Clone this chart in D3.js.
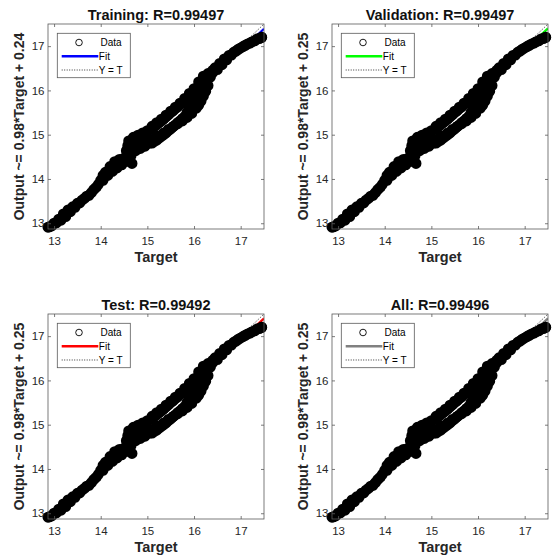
<!DOCTYPE html>
<html>
<head>
<meta charset="utf-8">
<script src="https://cdn.jsdelivr.net/npm/d3@7"></script>
<style>
  html, body { margin: 0; padding: 0; background: #fff; }
  svg { display: block; font-family: "Liberation Sans", Arial, Helvetica, sans-serif; }
</style>
</head>
<body>
<svg id="chart" width="557" height="558"></svg>
<script>
// Regression panels: titles, fit coefficients, fit colours
const panelTitles = ["Training: R=0.99497", "Validation: R=0.99497", "Test: R=0.99492", "All: R=0.99496"];
const fitSlopes = [0.98, 0.98, 0.98, 0.98];
const fitIntercepts = [0.24, 0.25, 0.25, 0.25];
const fitColors = ["#0000ff", "#00ff00", "#ff0000", "#808080"];
const axisLimits = [12.87, 17.5];
const tickValues = [13, 14, 15, 16, 17];
const legendLabels = ["Data", "Fit", "Y = T"];
const xLabel = "Target";

// Target / output samples (upper side of the point cloud)
const targetsUpper = [12.87, 12.9, 13.0, 13.1, 13.2, 13.3, 13.4, 13.5, 13.6, 13.7, 13.8, 13.9, 14.0, 14.05, 14.1, 14.2, 14.3, 14.4, 14.5, 14.55, 14.58, 14.6, 14.7, 14.8, 14.9, 15.0, 15.1, 15.2, 15.3, 15.4, 15.5, 15.6, 15.7, 15.8, 15.9, 16.0, 16.1, 16.2, 16.3, 16.4, 16.5, 16.6, 16.7, 16.8, 16.9, 17.0, 17.1, 17.2, 17.3, 17.4, 17.45];
const outputsUpper = [12.91, 12.92, 13.00, 13.09, 13.21, 13.30, 13.37, 13.45, 13.52, 13.61, 13.69, 13.81, 13.97, 14.08, 14.15, 14.28, 14.39, 14.44, 14.47, 14.64, 14.75, 14.86, 14.94, 14.99, 15.04, 15.09, 15.19, 15.27, 15.35, 15.44, 15.53, 15.62, 15.71, 15.82, 15.93, 16.04, 16.19, 16.32, 16.38, 16.40, 16.47, 16.58, 16.69, 16.80, 16.89, 16.96, 17.02, 17.07, 17.12, 17.17, 17.20];

// Lower side of the point cloud
const targetsLower = [12.95, 13.05, 13.15, 13.25, 13.35, 13.45, 13.55, 13.65, 13.75, 13.85, 13.95, 14.05, 14.15, 14.25, 14.35, 14.45, 14.55, 14.65, 14.67, 14.75, 14.85, 14.95, 15.05, 15.15, 15.25, 15.35, 15.45, 15.55, 15.65, 15.75, 15.85, 15.95, 16.05, 16.1, 16.15, 16.2, 16.25, 16.3, 16.35, 16.4, 16.45, 16.55, 16.65, 16.75, 16.85, 16.95, 17.05, 17.15, 17.25, 17.35, 17.45];
const outputsLower = [12.94, 13.01, 13.07, 13.15, 13.26, 13.36, 13.46, 13.56, 13.63, 13.76, 13.88, 13.97, 14.08, 14.17, 14.25, 14.32, 14.40, 14.53, 14.35, 14.64, 14.69, 14.74, 14.81, 14.90, 14.97, 15.04, 15.12, 15.18, 15.25, 15.31, 15.39, 15.48, 15.60, 15.67, 15.76, 15.87, 15.98, 16.11, 16.30, 16.45, 16.51, 16.61, 16.71, 16.79, 16.86, 16.93, 16.99, 17.05, 17.10, 17.16, 17.20];

// Inner samples of the wide middle section: the loop above the thin gap ...
const targetsInnerA = [14.6, 14.7, 14.8, 14.9, 15.0, 15.1, 15.15, 15.2, 15.25, 15.3, 15.35, 15.4, 15.45, 15.5, 15.55, 15.6, 15.65, 15.7, 15.75, 15.8, 15.85, 15.9, 15.95, 16.0, 16.05, 16.1, 16.15, 16.2, 16.25, 16.3];
const outputsInnerA = [14.67, 14.76, 14.83, 14.88, 14.93, 15.12, 15.18, 15.23, 15.27, 15.31, 15.35, 15.40, 15.45, 15.50, 15.54, 15.59, 15.63, 15.68, 15.72, 15.77, 15.78, 15.78, 15.83, 15.88, 15.95, 16.02, 16.10, 16.17, 16.22, 16.26];
// ... and the loop below it
const targetsInnerB = [15.1, 15.15, 15.2, 15.25, 15.3, 15.35, 15.4, 15.45, 15.5, 15.55, 15.6, 15.65, 15.7, 15.75, 15.8, 15.85, 15.9, 15.95, 16.0, 16.05, 16.1, 16.15, 16.2];
const outputsInnerB = [14.81, 14.85, 14.88, 14.92, 14.96, 15.00, 15.04, 15.09, 15.13, 15.18, 15.22, 15.27, 15.31, 15.36, 15.41, 15.50, 15.60, 15.65, 15.70, 15.78, 15.85, 15.94, 16.02];

const samples = [
  [targetsUpper, outputsUpper],
  [targetsLower, outputsLower],
  [targetsInnerA, outputsInnerA],
  [targetsInnerB, outputsInnerB]
].flatMap(([ts, os]) => ts.map((t, k) => ({ t, o: os[k] })));

const svg = d3.select("#chart");
const FONT = '"Liberation Sans", Arial, Helvetica, sans-serif';
const axW = 216, axH = 205;
const panelOrigins = [[48, 24], [332, 24], [48, 314], [332, 314]];
const boxColor = "#5a5a5a";

panelOrigins.forEach(([left, top], i) => {
  const x = d3.scaleLinear().domain(axisLimits).range([left, left + axW]);
  const y = d3.scaleLinear().domain(axisLimits).range([top + axH, top]);
  const g = svg.append("g");

  const clipId = "clip" + i;
  svg.append("clipPath").attr("id", clipId)
    .append("rect").attr("x", left).attr("y", top).attr("width", axW).attr("height", axH);

  // Y = T reference line
  g.append("line")
    .attr("clip-path", `url(#${clipId})`)
    .attr("x1", x(axisLimits[0])).attr("y1", y(axisLimits[0]))
    .attr("x2", x(axisLimits[1])).attr("y2", y(axisLimits[1]))
    .attr("stroke", "#000").attr("stroke-width", 0.8).attr("stroke-dasharray", "1,1.5");

  // Linear fit
  const fit = t => fitSlopes[i] * t + fitIntercepts[i];
  g.append("line")
    .attr("clip-path", `url(#${clipId})`)
    .attr("x1", x(axisLimits[0])).attr("y1", y(fit(axisLimits[0])))
    .attr("x2", x(axisLimits[1])).attr("y2", y(fit(axisLimits[1])))
    .attr("stroke", fitColors[i]).attr("stroke-width", 2.2);

  // Data markers
  g.append("g").selectAll("circle").data(samples).join("circle")
    .attr("cx", d => x(d.t)).attr("cy", d => y(d.o))
    .attr("r", 2.75)
    .attr("fill", "none").attr("stroke", "#000").attr("stroke-width", 5.5);

  // Axes with inward ticks on all four sides
  const styleAxis = sel => {
    sel.attr("font-family", FONT).attr("font-size", 11.5);
    sel.select(".domain").remove();
    sel.selectAll(".tick line").attr("stroke", boxColor).attr("stroke-width", 0.8);
    sel.selectAll(".tick text").attr("fill", "#262626");
  };
  g.append("g").attr("transform", `translate(0,${top + axH})`)
    .call(d3.axisBottom(x).tickValues(tickValues).tickSize(-3).tickPadding(7.5).tickFormat(d3.format("d")))
    .call(styleAxis);
  g.append("g").attr("transform", `translate(0,${top})`)
    .call(d3.axisTop(x).tickValues(tickValues).tickSize(-3).tickFormat(""))
    .call(styleAxis);
  g.append("g").attr("transform", `translate(${left},0)`)
    .call(d3.axisLeft(y).tickValues(tickValues).tickSize(-3).tickPadding(3.5).tickFormat(d3.format("d")))
    .call(styleAxis);
  g.append("g").attr("transform", `translate(${left + axW},0)`)
    .call(d3.axisRight(y).tickValues(tickValues).tickSize(-3).tickFormat(""))
    .call(styleAxis);

  g.append("rect")
    .attr("x", left).attr("y", top).attr("width", axW).attr("height", axH)
    .attr("fill", "none").attr("stroke", boxColor).attr("stroke-width", 0.8);

  // Legend
  const lg = g.append("g").attr("transform", `translate(${left + 9.3},${top + 9.3})`);
  lg.append("rect").attr("width", 73).attr("height", 44.4)
    .attr("fill", "#fff").attr("stroke", boxColor).attr("stroke-width", 0.8);
  const rows = [9.2, 23, 36.7];
  lg.append("circle").attr("cx", 21.7).attr("cy", rows[0]).attr("r", 3.3)
    .attr("fill", "none").attr("stroke", "#000").attr("stroke-width", 0.9);
  lg.append("line").attr("x1", 4.4).attr("x2", 41).attr("y1", rows[1]).attr("y2", rows[1])
    .attr("stroke", fitColors[i]).attr("stroke-width", 2.4);
  lg.append("line").attr("x1", 4.4).attr("x2", 41).attr("y1", rows[2]).attr("y2", rows[2])
    .attr("stroke", "#000").attr("stroke-width", 0.8).attr("stroke-dasharray", "1,1.5");
  lg.selectAll("text.lab").data(legendLabels).join("text")
    .attr("class", "lab")
    .attr("x", d => d === "Data" ? 43.2 : 41.5)
    .attr("y", (d, k) => rows[k] + 3.6)
    .attr("font-family", FONT).attr("font-size", 10).attr("fill", "#000")
    .text(d => d);

  // Title and axis labels
  const cx = left + axW / 2;
  g.append("text").attr("x", cx).attr("y", top - 4.5)
    .attr("text-anchor", "middle").attr("font-family", FONT)
    .attr("font-size", 14.5).attr("font-weight", "bold").attr("fill", "#111")
    .text(panelTitles[i]);
  g.append("text").attr("x", cx).attr("y", top + axH + 33)
    .attr("text-anchor", "middle").attr("font-family", FONT)
    .attr("font-size", 14.5).attr("font-weight", "bold").attr("fill", "#262626")
    .text(xLabel);
  const yl = `Output ~= ${fitSlopes[i]}*${xLabel} + ${fitIntercepts[i]}`;
  g.append("text")
    .attr("transform", `translate(${left - 24.5},${top + axH / 2}) rotate(-90)`)
    .attr("text-anchor", "middle").attr("font-family", FONT)
    .attr("font-size", 14).attr("font-weight", "bold").attr("fill", "#262626")
    .text(yl);
});
</script>
</body>
</html>
